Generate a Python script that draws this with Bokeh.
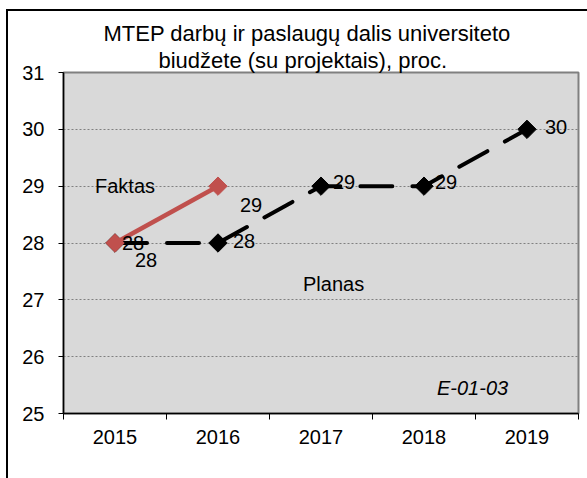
from bokeh.plotting import figure
from bokeh.models import ColumnDataSource, FixedTicker, Range1d, Label, Title
from bokeh.core.properties import value
from bokeh.embed import file_html
from bokeh.resources import INLINE
import math

# ---- data ----
years = ["2015", "2016", "2017", "2018", "2019"]
planas = [28, 28, 29, 29, 30]
faktas = [28, 29]
y_ticks = [25, 26, 27, 28, 29, 30, 31]
title_lines = ["MTEP darbų ir paslaugų dalis universiteto",
               "biudžete (su projektais), proc."]

FONT = "Liberation Sans"
x_pos = list(range(1, len(years) + 1))
boundaries = [i + 0.5 for i in range(len(years) + 1)]

# label offsets (px)
planas_dx = [20, 15, 12, 11, 18]
planas_dy = [17, -2, -4, -4, -2]
faktas_dx = [7, 22]
faktas_dy = [0, 19]

p = figure(width=587, height=478, output_backend="svg", toolbar_location=None,
           x_range=Range1d(boundaries[0], boundaries[-1]),
           y_range=Range1d(y_ticks[0], y_ticks[-1]),
           min_border_left=63, min_border_right=9, min_border_top=72, min_border_bottom=65)
p.title = None
p.add_layout(Title(text=title_lines[1], align="left", text_font_size="22px",
                   text_font_style="normal", text_font=FONT, text_color="black",
                   offset=95, standoff=0, vertical_align="bottom"), "above")
p.add_layout(Title(text=title_lines[0], align="left", text_font_size="22px",
                   text_font_style="normal", text_font=FONT, text_color="black",
                   offset=40, standoff=0, vertical_align="bottom"), "above")

p.background_fill_color = "#D9D9D9"
p.border_fill_color = None
p.outline_line_color = "#808080"
p.outline_line_width = 2

# outer chart border (top and left edges visible), drawn behind the transparent canvas
p.styles = {
    "background-color": "white",
    "background-image": "linear-gradient(black, black), linear-gradient(black, black)",
    "background-size": "100% 2px, 2px 100%",
    "background-position": "6px 9px, 6px 9px",
    "background-repeat": "no-repeat",
}

# y axis
p.yaxis.ticker = FixedTicker(ticks=y_ticks)
p.yaxis.major_tick_out = 5
p.yaxis.major_tick_in = 0
p.yaxis.minor_tick_line_color = None
p.yaxis.major_label_standoff = 14
p.yaxis.major_label_text_font_size = "20px"
p.yaxis.major_label_text_font = FONT
p.yaxis.major_label_text_color = "black"
p.yaxis.axis_line_color = "black"
p.yaxis.axis_line_width = 1.5
p.yaxis.major_tick_line_color = "black"

# grid
p.xgrid.visible = False
p.ygrid.ticker = FixedTicker(ticks=y_ticks[1:-1])
p.ygrid.grid_line_color = "#808080"
p.ygrid.grid_line_dash = "2 2"
p.ygrid.grid_line_width = 1

# x axis: labels at centres, tick marks at category boundaries
xa = p.xaxis[0]
xa.ticker = FixedTicker(ticks=x_pos, minor_ticks=boundaries)
xa.major_label_overrides = {x: y for x, y in zip(x_pos, years)}
xa.major_tick_line_color = None
xa.major_tick_out = 0
xa.major_tick_in = 0
xa.minor_tick_line_color = "black"
xa.minor_tick_out = 6
xa.minor_tick_in = 0
xa.axis_line_color = "black"
xa.axis_line_width = 1.5
xa.major_label_standoff = 10
xa.major_label_text_font_size = "20px"
xa.major_label_text_font = FONT
xa.major_label_text_color = "black"

# Planas
src_p = ColumnDataSource(dict(x=x_pos, y=planas, t=[str(v) for v in planas],
                              dx=planas_dx, dy=planas_dy))
p.line("x", "y", source=src_p, line_color="black", line_width=4, line_dash="32 20",
       line_cap="round")
p.scatter("x", "y", source=src_p, marker="square", size=13, angle=math.pi / 4,
          fill_color="black", line_color="black")

# Faktas
src_f = ColumnDataSource(dict(x=x_pos[:len(faktas)], y=faktas, t=[str(v) for v in faktas],
                              dx=faktas_dx, dy=faktas_dy))
p.line("x", "y", source=src_f, line_color="#C0504D", line_width=4.5)
p.scatter("x", "y", source=src_f, marker="square", size=13, angle=math.pi / 4,
          fill_color="#C0504D", line_color="#C0504D")

for src in (src_p, src_f):
    p.text("x", "y", text="t", source=src, x_offset="dx", y_offset="dy",
           text_font=value(FONT), text_font_size="20px", text_color="black",
           text_baseline="alphabetic", text_align="left")

for txt, xx, yy, style in [("Faktas", 0.806, 29.0, "normal"),
                           ("Planas", 2.825, 27.27, "normal"),
                           ("E-01-03", 4.126, 25.44, "italic")]:
    p.add_layout(Label(x=xx, y=yy, text=txt, text_font=FONT, text_font_size="20px",
                       text_font_style=style, text_color="black", text_baseline="alphabetic"))

open("out.html", "w").write(file_html(p, INLINE))
